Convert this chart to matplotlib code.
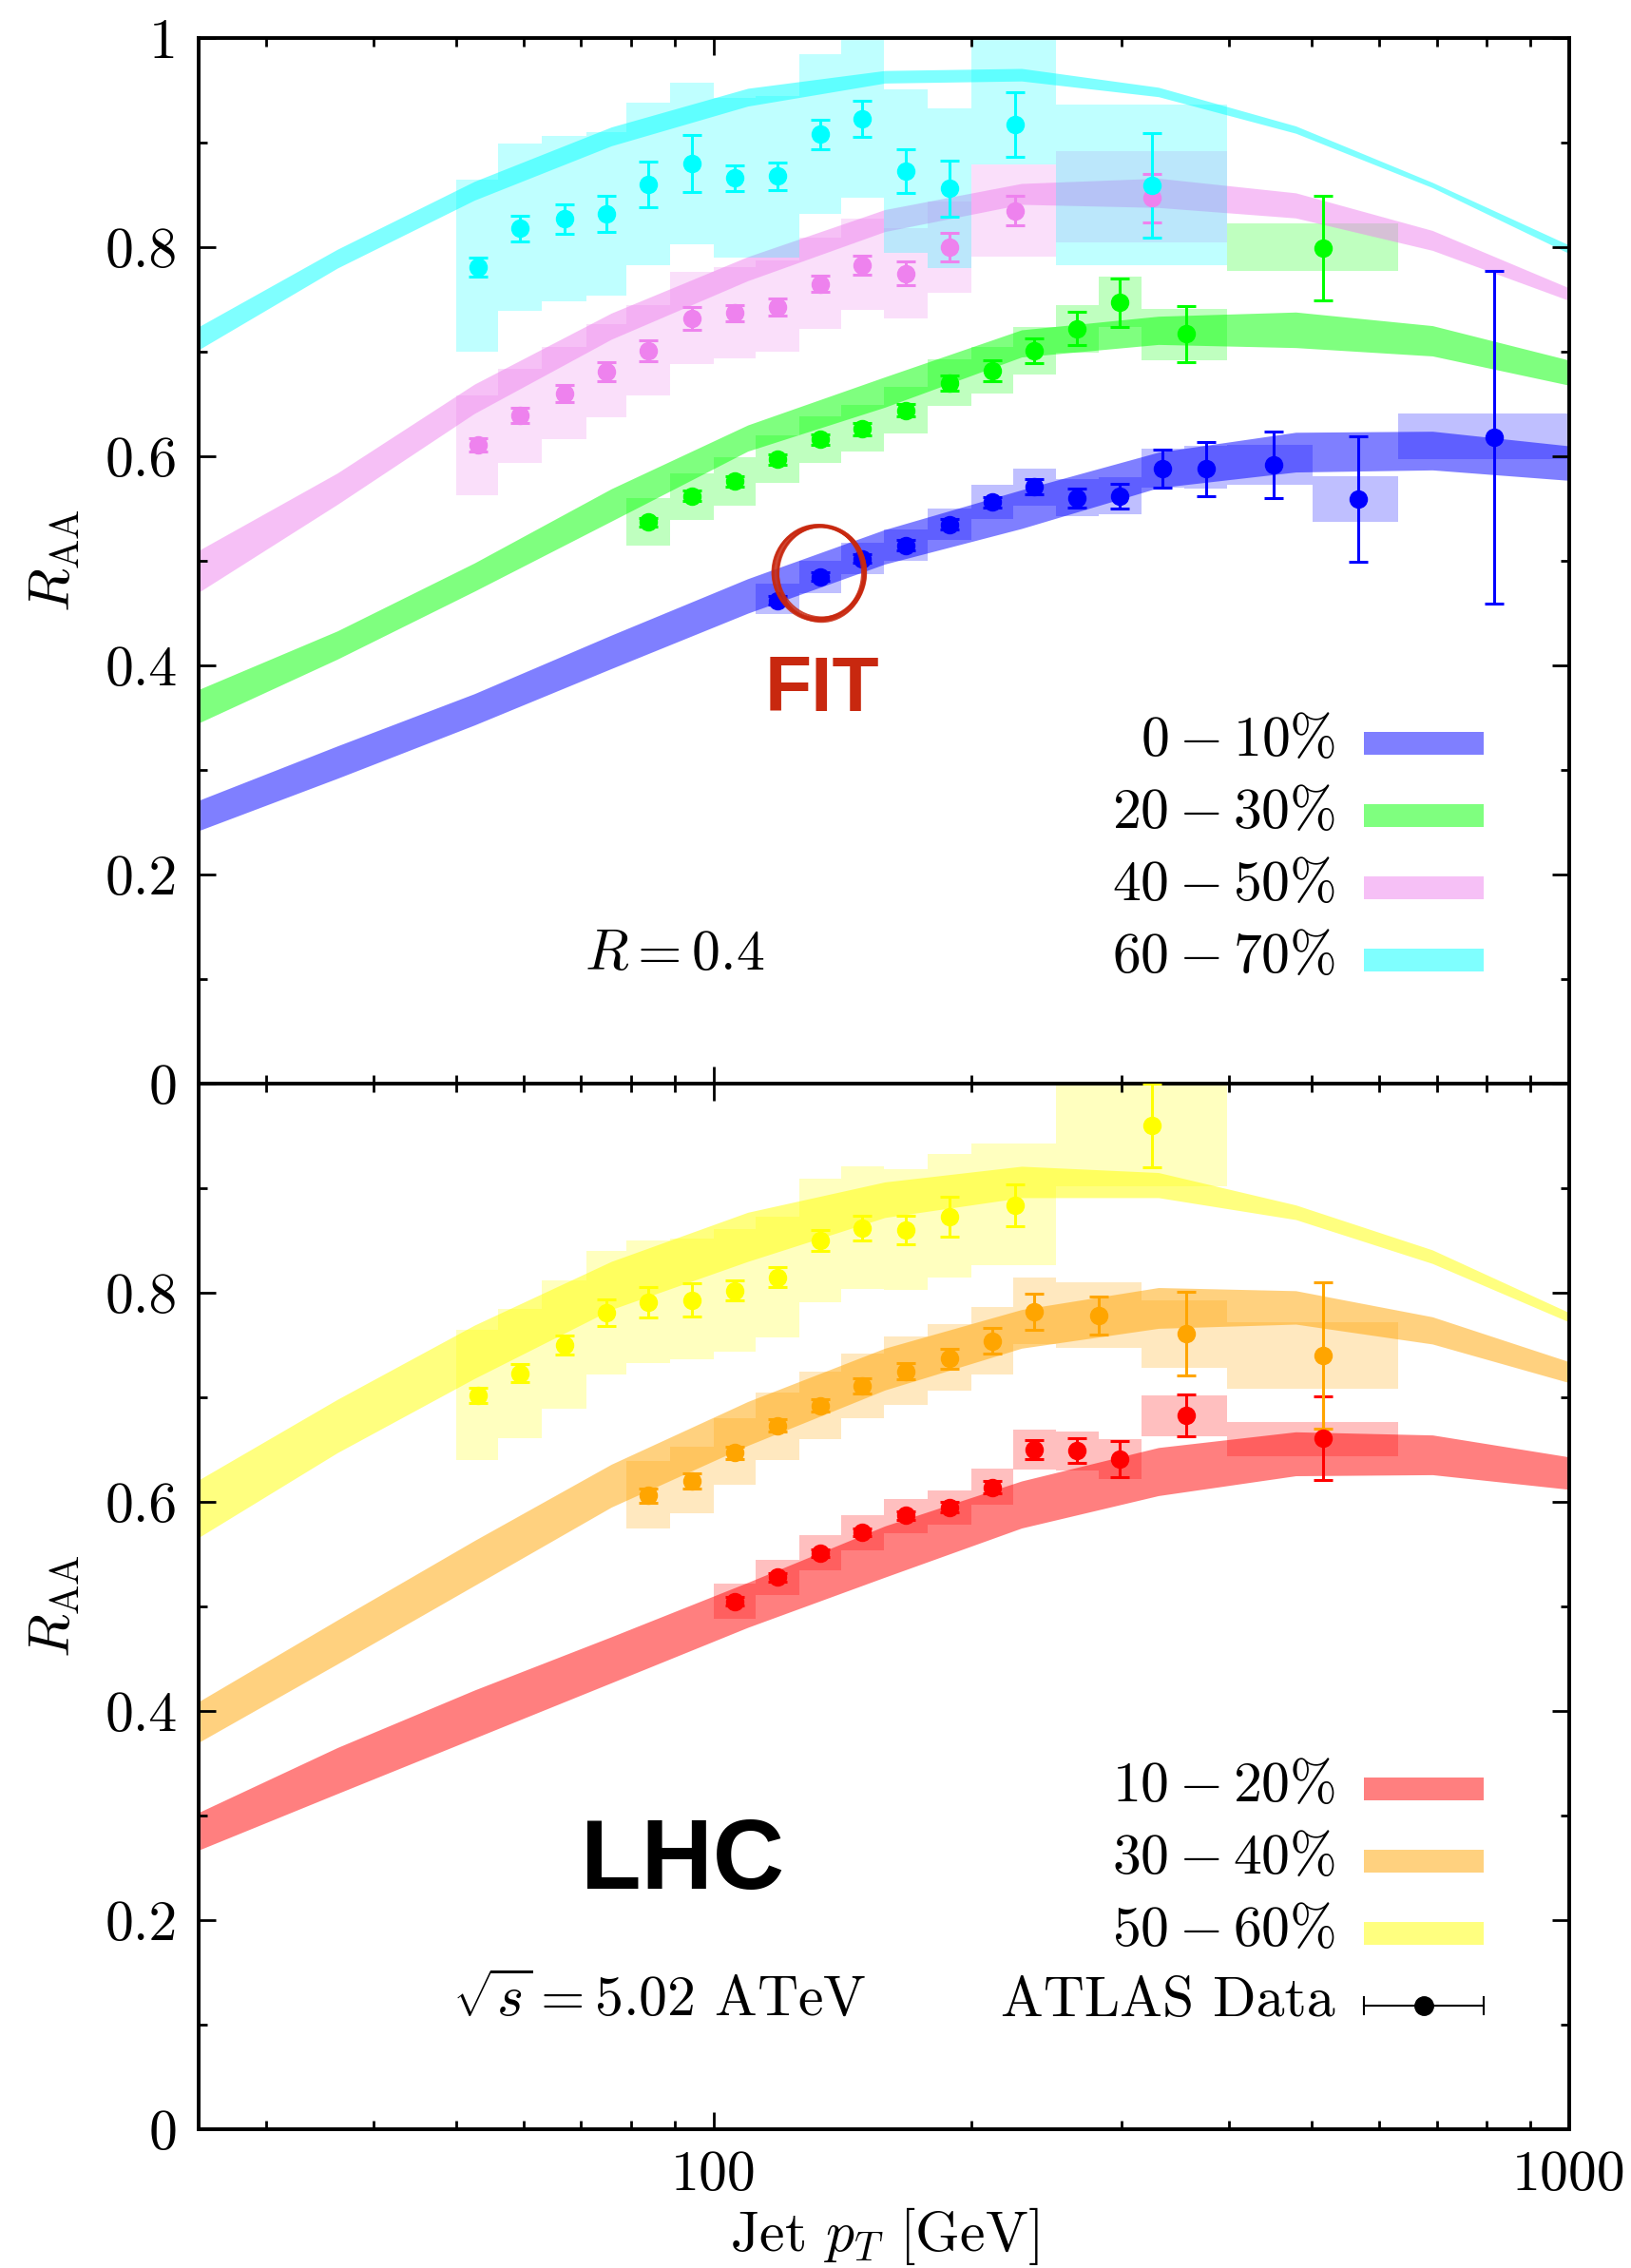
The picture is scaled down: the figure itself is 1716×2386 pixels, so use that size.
import matplotlib
matplotlib.use('Agg')
import matplotlib.pyplot as plt
from matplotlib.patches import Ellipse, Rectangle

plt.rcParams['font.family'] = 'serif'
plt.rcParams['font.serif'] = ['cmr10']
plt.rcParams['mathtext.fontset'] = 'cm'
plt.rcParams['axes.formatter.use_mathtext'] = True
plt.rcParams['axes.unicode_minus'] = False

# ---- theory bands (upper / lower edge on a common pT grid) ----
theory_pt = [25, 36.3, 52.5, 75.9, 109.6, 158.5, 229, 331, 479, 692, 1000]

band_0_10_lo = [0.242, 0.292, 0.343, 0.397, 0.450, 0.497, 0.531, 0.570, 0.585, 0.587, 0.577]
band_0_10_hi = [0.271, 0.323, 0.373, 0.429, 0.483, 0.530, 0.568, 0.604, 0.623, 0.624, 0.610]
band_20_30_lo = [0.345, 0.406, 0.471, 0.538, 0.605, 0.647, 0.695, 0.707, 0.704, 0.696, 0.668]
band_20_30_hi = [0.377, 0.433, 0.498, 0.569, 0.630, 0.676, 0.721, 0.734, 0.738, 0.725, 0.692]
band_40_50_lo = [0.470, 0.554, 0.641, 0.712, 0.768, 0.815, 0.841, 0.838, 0.828, 0.797, 0.749]
band_40_50_hi = [0.510, 0.584, 0.669, 0.737, 0.791, 0.836, 0.861, 0.866, 0.852, 0.816, 0.761]
band_60_70_lo = [0.702, 0.780, 0.845, 0.897, 0.935, 0.957, 0.959, 0.944, 0.909, 0.857, 0.794]
band_60_70_hi = [0.724, 0.798, 0.863, 0.915, 0.952, 0.969, 0.971, 0.953, 0.916, 0.862, 0.802]

band_10_20_lo = [0.267, 0.321, 0.374, 0.427, 0.480, 0.528, 0.575, 0.606, 0.625, 0.626, 0.612]
band_10_20_hi = [0.303, 0.365, 0.420, 0.471, 0.523, 0.577, 0.620, 0.652, 0.667, 0.664, 0.643]
band_30_40_lo = [0.370, 0.445, 0.520, 0.595, 0.654, 0.707, 0.747, 0.766, 0.770, 0.751, 0.714]
band_30_40_hi = [0.409, 0.487, 0.563, 0.636, 0.696, 0.747, 0.784, 0.805, 0.802, 0.777, 0.734]
band_50_60_lo = [0.566, 0.647, 0.718, 0.784, 0.830, 0.872, 0.891, 0.891, 0.870, 0.828, 0.772]
band_50_60_hi = [0.621, 0.698, 0.769, 0.830, 0.877, 0.906, 0.921, 0.915, 0.884, 0.841, 0.781]

# ---- ATLAS data: bin edges, point pT, R_AA, stat error, syst box ----
edges_0_10 = [112, 126, 141, 158, 178, 200, 224, 251, 282, 316, 355, 398, 501, 631, 1000]
pt_0_10 = [118.8, 133.3, 149.2, 167.7, 188.7, 211.7, 237.1, 266, 298.5, 335, 376, 451, 567, 817]
raa_0_10 = [0.462, 0.485, 0.502, 0.515, 0.535, 0.556, 0.571, 0.560, 0.562, 0.588, 0.588, 0.592, 0.559, 0.618]
stat_0_10 = [0.004, 0.004, 0.004, 0.005, 0.005, 0.005, 0.0075, 0.009, 0.012, 0.018, 0.026, 0.0315, 0.060, 0.159]
sys_lo_0_10 = [0.449, 0.469, 0.487, 0.500, 0.520, 0.540, 0.553, 0.543, 0.545, 0.570, 0.569, 0.573, 0.537, 0.597]
sys_hi_0_10 = [0.478, 0.500, 0.517, 0.530, 0.550, 0.573, 0.588, 0.578, 0.580, 0.607, 0.610, 0.611, 0.581, 0.641]

edges_20_30 = [79, 89, 100, 112, 126, 141, 158, 178, 200, 224, 251, 282, 316, 398, 631]
pt_20_30 = [83.9, 94.3, 105.8, 118.8, 133.3, 149.2, 167.7, 188.7, 211.7, 237.1, 266, 298.5, 357, 515]
raa_20_30 = [0.537, 0.562, 0.576, 0.597, 0.616, 0.626, 0.644, 0.670, 0.682, 0.701, 0.722, 0.747, 0.717, 0.799]
stat_20_30 = [0.004, 0.005, 0.005, 0.005, 0.005, 0.006, 0.006, 0.0075, 0.010, 0.012, 0.016, 0.0235, 0.027, 0.050]
sys_lo_20_30 = [0.515, 0.539, 0.553, 0.575, 0.594, 0.605, 0.622, 0.648, 0.660, 0.678, 0.699, 0.724, 0.692, 0.777]
sys_hi_20_30 = [0.560, 0.584, 0.599, 0.620, 0.638, 0.649, 0.666, 0.693, 0.705, 0.724, 0.745, 0.772, 0.741, 0.823]

edges_40_50 = [50, 56, 63, 71, 79, 89, 100, 112, 126, 141, 158, 178, 200, 251, 398]
pt_40_50 = [53, 59.4, 66.9, 74.9, 83.9, 94.3, 105.8, 118.8, 133.3, 149.2, 167.7, 188.7, 225, 325]
raa_40_50 = [0.611, 0.639, 0.660, 0.681, 0.701, 0.732, 0.737, 0.743, 0.765, 0.783, 0.775, 0.800, 0.835, 0.847]
stat_40_50 = [0.006, 0.007, 0.008, 0.009, 0.010, 0.011, 0.008, 0.008, 0.008, 0.009, 0.011, 0.014, 0.014, 0.023]
sys_lo_40_50 = [0.563, 0.594, 0.616, 0.637, 0.658, 0.688, 0.694, 0.700, 0.722, 0.740, 0.732, 0.756, 0.791, 0.805]
sys_hi_40_50 = [0.658, 0.684, 0.705, 0.726, 0.745, 0.776, 0.781, 0.787, 0.809, 0.827, 0.818, 0.844, 0.879, 0.892]

edges_60_70 = [50, 56, 63, 71, 79, 89, 100, 112, 126, 141, 158, 178, 200, 251, 398]
pt_60_70 = [53, 59.4, 66.9, 74.9, 83.9, 94.3, 105.8, 118.8, 133.3, 149.2, 167.7, 188.7, 225, 325]
raa_60_70 = [0.781, 0.818, 0.827, 0.832, 0.860, 0.880, 0.866, 0.868, 0.908, 0.923, 0.873, 0.856, 0.917, 0.859]
stat_60_70 = [0.009, 0.0125, 0.014, 0.017, 0.022, 0.027, 0.0125, 0.013, 0.014, 0.0175, 0.021, 0.027, 0.031, 0.050]
sys_lo_60_70 = [0.700, 0.739, 0.748, 0.754, 0.783, 0.803, 0.790, 0.790, 0.832, 0.847, 0.795, 0.780, 0.879, 0.783]
sys_hi_60_70 = [0.865, 0.899, 0.906, 0.910, 0.938, 0.957, 0.943, 0.945, 0.985, 1.000, 0.951, 0.933, 1.000, 0.936]

edges_10_20 = [100, 112, 126, 141, 158, 178, 200, 224, 251, 282, 316, 398, 631]
pt_10_20 = [105.8, 118.8, 133.3, 149.2, 167.7, 188.7, 211.7, 237.1, 266, 298, 357, 515]
raa_10_20 = [0.505, 0.528, 0.551, 0.571, 0.587, 0.595, 0.614, 0.650, 0.649, 0.641, 0.683, 0.661]
stat_10_20 = [0.004, 0.004, 0.004, 0.004, 0.004, 0.005, 0.006, 0.009, 0.0115, 0.017, 0.020, 0.040]
sys_lo_10_20 = [0.488, 0.511, 0.535, 0.554, 0.570, 0.578, 0.597, 0.631, 0.630, 0.622, 0.663, 0.644]
sys_hi_10_20 = [0.522, 0.545, 0.568, 0.587, 0.603, 0.611, 0.632, 0.669, 0.667, 0.660, 0.702, 0.676]

edges_30_40 = [79, 89, 100, 112, 126, 141, 158, 178, 200, 224, 251, 316, 398, 631]
pt_30_40 = [83.9, 94.3, 105.8, 118.8, 133.3, 149.2, 167.7, 188.7, 211.7, 237.1, 282, 357, 515]
raa_30_40 = [0.606, 0.620, 0.647, 0.673, 0.692, 0.711, 0.725, 0.737, 0.754, 0.782, 0.778, 0.761, 0.740]
stat_30_40 = [0.007, 0.007, 0.006, 0.006, 0.006, 0.007, 0.008, 0.0095, 0.012, 0.017, 0.018, 0.040, 0.070]
sys_lo_30_40 = [0.575, 0.589, 0.616, 0.640, 0.660, 0.680, 0.693, 0.706, 0.722, 0.751, 0.747, 0.728, 0.708]
sys_hi_30_40 = [0.639, 0.653, 0.680, 0.705, 0.725, 0.742, 0.758, 0.770, 0.786, 0.815, 0.810, 0.793, 0.772]

edges_50_60 = [50, 56, 63, 71, 79, 89, 100, 112, 126, 141, 158, 178, 200, 251, 398]
pt_50_60 = [53, 59.4, 66.9, 74.9, 83.9, 94.3, 105.8, 118.8, 133.3, 149.2, 167.7, 188.7, 225, 325]
raa_50_60 = [0.702, 0.723, 0.750, 0.781, 0.791, 0.793, 0.802, 0.815, 0.850, 0.862, 0.860, 0.873, 0.884, 0.960]
stat_50_60 = [0.007, 0.0085, 0.0095, 0.0125, 0.0145, 0.016, 0.0095, 0.0095, 0.010, 0.012, 0.014, 0.019, 0.020, 0.040]
sys_lo_50_60 = [0.640, 0.661, 0.689, 0.722, 0.733, 0.736, 0.744, 0.757, 0.791, 0.804, 0.803, 0.815, 0.826, 0.902]
sys_hi_50_60 = [0.765, 0.785, 0.812, 0.840, 0.850, 0.852, 0.861, 0.873, 0.909, 0.921, 0.918, 0.933, 0.943, 1.018]

labels_top = [r'$0-10\%$', r'$20-30\%$', r'$40-50\%$', r'$60-70\%$']
labels_bot = [r'$10-20\%$', r'$30-40\%$', r'$50-60\%$']
colors_top = ['#0000ff', '#00ff00', '#ee82ee', '#00ffff']
colors_bot = ['#ff0000', '#ffa500', '#ffff00']

FS = 43

fig = plt.figure(figsize=(17.16, 23.86), dpi=100)
ax1 = fig.add_axes([0.1218, 0.5222, 0.8403, 0.4610])
ax2 = fig.add_axes([0.1218, 0.0612, 0.8403, 0.4610])


def draw_series(ax, band_lo, band_hi, edges, pt, raa, stat, slo, shi, color):
    ax.fill_between(theory_pt, band_lo, band_hi, color=color, alpha=0.5, lw=0)
    widths = [edges[i + 1] - edges[i] for i in range(len(pt))]
    heights = [shi[i] - slo[i] for i in range(len(pt))]
    ax.bar(edges[:-1], heights, width=widths, bottom=slo, align='edge',
           color=color, alpha=0.25, linewidth=0)
    ax.errorbar(pt, raa, yerr=stat, fmt='o', color=color, ms=13,
                elinewidth=2.2, capsize=7, capthick=2.2, zorder=3)


top_series = [
    (band_0_10_lo, band_0_10_hi, edges_0_10, pt_0_10, raa_0_10, stat_0_10, sys_lo_0_10, sys_hi_0_10),
    (band_20_30_lo, band_20_30_hi, edges_20_30, pt_20_30, raa_20_30, stat_20_30, sys_lo_20_30, sys_hi_20_30),
    (band_40_50_lo, band_40_50_hi, edges_40_50, pt_40_50, raa_40_50, stat_40_50, sys_lo_40_50, sys_hi_40_50),
    (band_60_70_lo, band_60_70_hi, edges_60_70, pt_60_70, raa_60_70, stat_60_70, sys_lo_60_70, sys_hi_60_70),
]
bot_series = [
    (band_10_20_lo, band_10_20_hi, edges_10_20, pt_10_20, raa_10_20, stat_10_20, sys_lo_10_20, sys_hi_10_20),
    (band_30_40_lo, band_30_40_hi, edges_30_40, pt_30_40, raa_30_40, stat_30_40, sys_lo_30_40, sys_hi_30_40),
    (band_50_60_lo, band_50_60_hi, edges_50_60, pt_50_60, raa_50_60, stat_50_60, sys_lo_50_60, sys_hi_50_60),
]

for s, c in zip(top_series, colors_top):
    draw_series(ax1, *s, c)
for s, c in zip(bot_series, colors_bot):
    draw_series(ax2, *s, c)

# legends (hand placed, gnuplot style)
rows = [0.3255, 0.2564, 0.1873, 0.118]
for ax, labs, cols in ((ax1, labels_top, colors_top), (ax2, labels_bot, colors_bot)):
    for lab, c, yy in zip(labs, cols, rows):
        ax.text(0.8295, yy - 0.012, lab, transform=ax.transAxes, ha='right',
                va='baseline', fontsize=FS)
        ax.add_patch(Rectangle((0.8503, yy - 0.0109), 0.0873, 0.0218,
                               transform=ax.transAxes, color=c, alpha=0.5, lw=0))

yy = rows[3]
ax2.text(0.8295, yy - 0.010, 'ATLAS Data', transform=ax2.transAxes, ha='right',
         va='baseline', fontsize=FS)
ax2.plot([0.8503, 0.9376], [yy, yy], color='k', lw=1.5, transform=ax2.transAxes)
ax2.plot([0.8503, 0.8503], [yy - 0.0082, yy + 0.0082], color='k', lw=1.5, transform=ax2.transAxes)
ax2.plot([0.9376, 0.9376], [yy - 0.0082, yy + 0.0082], color='k', lw=1.5, transform=ax2.transAxes)
ax2.plot([0.894], [yy], 'o', color='k', ms=14, transform=ax2.transAxes)

# annotations
ax1.text(0.347, 0.109, r'$R=0.4$', transform=ax1.transAxes, ha='center',
         va='baseline', fontsize=FS)
ax2.text(0.336, 0.109, r'$\sqrt{s}=5.02$ ATeV', transform=ax2.transAxes,
         ha='center', va='baseline', fontsize=FS)
ax2.text(0.353, 0.230, 'LHC', transform=ax2.transAxes, ha='center', va='baseline',
         fontsize=75, fontweight='bold', family='Liberation Sans')
ax1.text(0.4546, 0.356, 'FIT', transform=ax1.transAxes, ha='center', va='baseline',
         fontsize=58, fontweight='bold', family='Liberation Sans', color='#c8280f')

# sketchy red circle around one data point
for dx, dy, dw, dh, lw in [(0, 0, 0, 0, 3.2), (-0.0015, 0.0005, 0.0015, -0.001, 2.0),
                           (0.0008, -0.0012, -0.002, 0.0015, 1.8), (-0.002, 0.0, 0.0, 0.002, 1.6),
                           (0.0012, 0.0012, -0.001, -0.002, 1.4)]:
    ax1.add_patch(Ellipse((0.4536 + dx, 0.4886 + dy), 0.0650 + dw, 0.0895 + dh,
                          transform=ax1.transAxes, fill=False, ec='#c8280f',
                          lw=lw, alpha=0.85, zorder=5))

for ax in (ax1, ax2):
    ax.set_xscale('log')
    ax.set_xlim(25, 1000)
    ax.set_ylim(0, 1)
    ax.set_xticks([100, 1000])
    ax.set_xticks([30, 40, 50, 60, 70, 80, 90, 200, 300, 400, 500, 600, 700, 800, 900], minor=True)
    ax.set_xticklabels([], minor=True)
    ax.set_yticks([0.1, 0.3, 0.5, 0.7, 0.9], minor=True)
    ax.tick_params(which='both', direction='in', top=True, right=True, width=2)
    ax.tick_params(which='major', length=13, labelsize=FS, pad=16)
    ax.tick_params(which='minor', length=6.5)
    for sp in ax.spines.values():
        sp.set_linewidth(2.8)
    ax.set_ylabel(r'$R_{\rm AA}$', fontsize=FS, labelpad=18)

ax1.set_yticks([0, 0.2, 0.4, 0.6, 0.8, 1.0])
ax1.set_yticklabels(['0', '0.2', '0.4', '0.6', '0.8', '1'])
ax1.tick_params(labelbottom=False)
ax2.set_yticks([0, 0.2, 0.4, 0.6, 0.8, 1.0])
ax2.set_yticklabels(['0', '0.2', '0.4', '0.6', '0.8', ''])
ax2.set_xticklabels(['100', '1000'])
ax2.set_xlabel(r'Jet $p_T$ [GeV]', fontsize=FS, labelpad=3)

fig.savefig('out.png', dpi=100)
